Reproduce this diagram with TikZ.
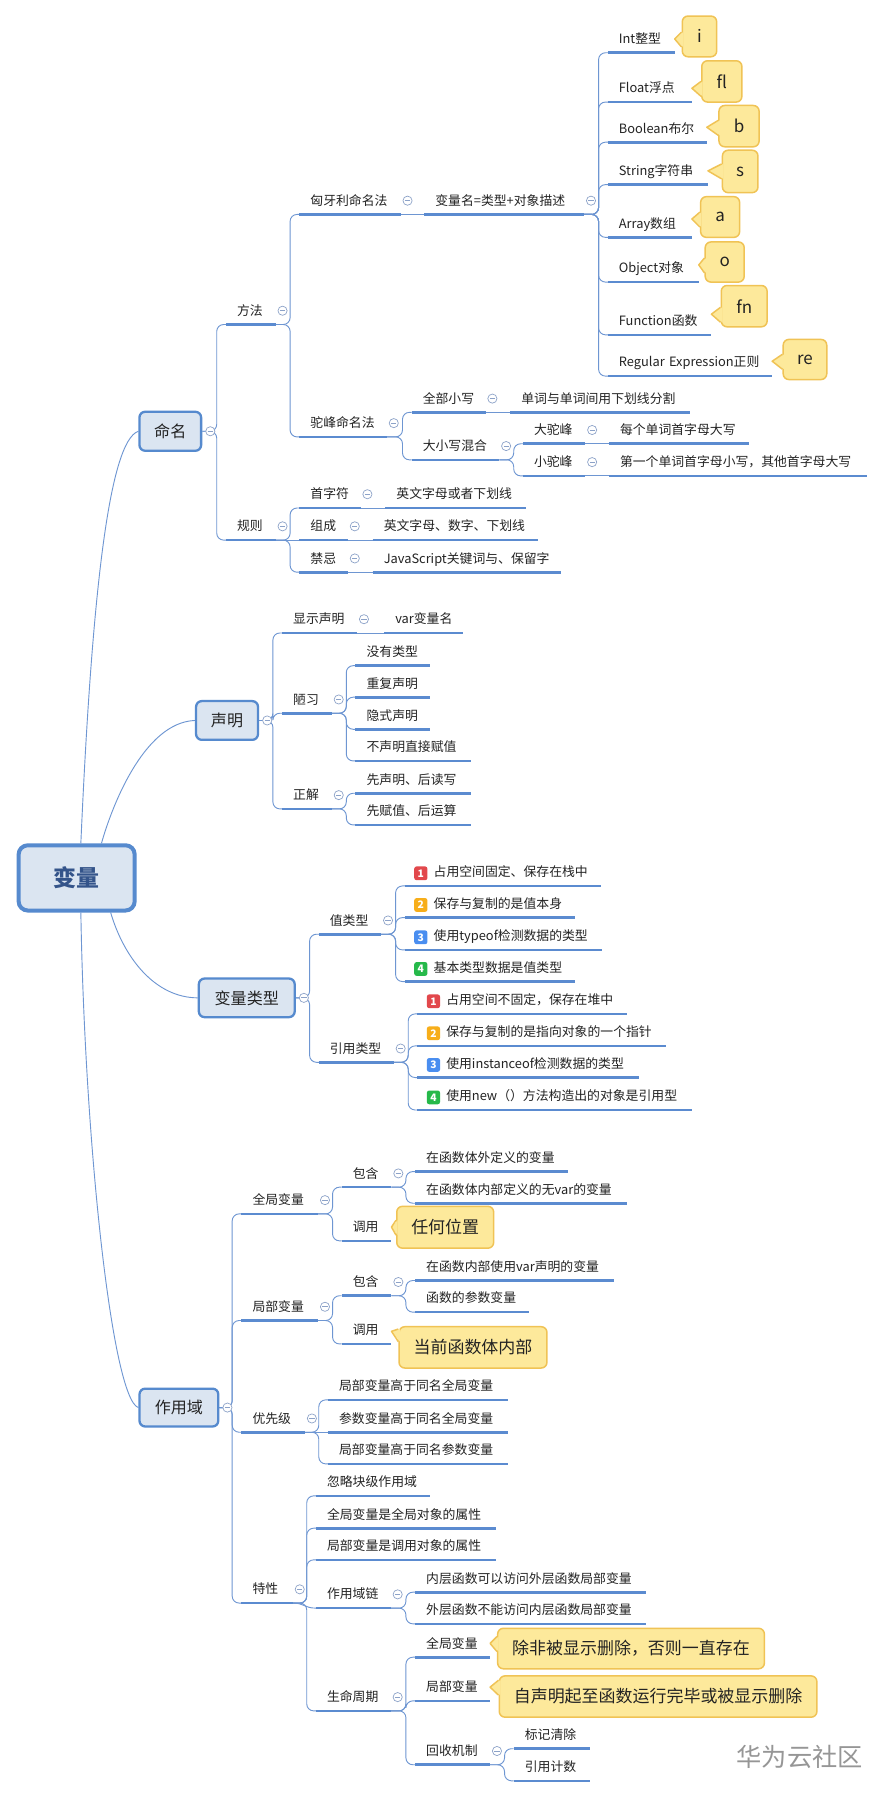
\documentclass[tikz,border=0pt]{standalone}
\usepackage{fontspec}
\newfontfamily\cjk{Noto Sans CJK SC}
\usetikzlibrary{backgrounds,calc}
\definecolor{ul}{RGB}{91,139,208}
\definecolor{cn}{RGB}{110,150,210}
\definecolor{bfill}{RGB}{219,229,241}
\definecolor{bdraw}{RGB}{86,138,206}
\definecolor{rtext}{RGB}{52,84,138}
\definecolor{tx}{RGB}{35,35,35}
\definecolor{colc}{RGB}{140,162,200}
\definecolor{cfill}{RGB}{253,233,155}
\definecolor{cdraw}{RGB}{240,195,85}
\definecolor{bred}{RGB}{226,72,76}
\definecolor{borg}{RGB}{247,174,26}
\definecolor{bblu}{RGB}{74,142,240}
\definecolor{bgrn}{RGB}{38,185,74}
\definecolor{wm}{RGB}{150,150,150}
\tikzset{
  topic/.style={font=\cjk\fontsize{11.2}{13}\selectfont, text=tx, inner xsep=9.5pt, inner ysep=0pt, text height=9pt, text depth=7.8pt, anchor=south west, align=left},
  uline/.style={draw=ul, line width=2.3pt},
  conn/.style={draw=cn, line width=0.8pt, rounded corners=6pt},
  coll/.style={circle, draw=colc, fill=white, line width=0.6pt, minimum size=8pt, inner sep=0pt, path picture={\draw[colc,line width=0.7pt] ([xshift=-2.3pt]path picture bounding box.center) -- ([xshift=2.3pt]path picture bounding box.center);}},
  mainbox/.style={draw=bdraw, fill=bfill, line width=2pt, rounded corners=5pt, font=\cjk\fontsize{14}{16}\selectfont, text=tx, inner sep=0pt},
  rootbox/.style={draw=bdraw, fill=bfill, line width=3.5pt, rounded corners=8pt, font=\cjk\bfseries\fontsize{20}{22}\selectfont, text=rtext, inner sep=0pt},
  callout/.style={draw=cdraw, fill=cfill, line width=1.3pt, rounded corners=5pt, font=\cjk\fontsize{14.8}{17}\selectfont, text=tx, inner sep=0pt},
  badge/.style={rounded corners=2pt, minimum width=11.5pt, minimum height=12pt, inner sep=0pt, text=white, font=\cjk\bfseries\fontsize{9}{9}\selectfont},
  wmark/.style={font=\cjk\fontsize{22}{24}\selectfont, text=wm}
}
\newcommand\tpn[5]{%
  \pgfmathsetlengthmacro\tpw{#3pt-#2pt-19pt}%
  \node[topic, text width=\tpw] (#1) at (#2,#4) {\mbox{#5}};
  \draw[uline] (#1.south west) -- (#1.south east);}
\newcommand\colli[1]{\node[coll] (#1-c) at ([shift={(6pt,12pt)}]#1.south east) {};}
\newcommand\collb[1]{\node[coll] (#1-c) at ([xshift=7pt]#1.east) {};}
\newcommand\lnk[2]{\draw[conn] (#1.south east) -| ([xshift=-8pt]#2.south west) -- (#2.south west);}
\newcommand\lnks[2]{\draw[conn] (#1.south east) -- (#2.south west);}
\newcommand\lnkb[2]{\draw[conn] (#1.east) -| ([xshift=-8pt]#2.south west) -- (#2.south west);}
\newcommand\callo[9]{%
  \pgfmathsetlengthmacro\cw{#4pt-#3pt}%
  \pgfmathsetlengthmacro\ch{#6pt-#5pt}%
  \node[callout, minimum width=\cw, minimum height=\ch] (#1) at ({(#3+#4)/2},{(#5+#6)/2}) {#7};
  \fill[cfill] (#2) -- ($(#1.west |- #2)+(1.4pt,#8pt)$) -- ($(#1.west |- #2)+(1.4pt,-#9pt)$) -- cycle;
  \draw[cdraw, line width=1.3pt, line join=round] ($(#1.west |- #2)+(0pt,#8pt)$) -- (#2) -- ($(#1.west |- #2)+(0pt,-#9pt)$);}
\begin{document}
\begin{tikzpicture}[x=1pt,y=-1pt]
\useasboundingbox (0,0) rectangle (770,1568);
% root and main branches
\node[rootbox, minimum width=101.2pt, minimum height=56.9pt] (root) at (66.85,765.6) {变量};
\node[mainbox, minimum width=53.8pt, minimum height=34pt] (mm) at (148.5,376.1) {命名};
\node[mainbox, minimum width=54pt, minimum height=33.8pt] (sm) at (198,628.3) {声明};
\node[mainbox, minimum width=83.6pt, minimum height=33.7pt] (bllx) at (215.2,870.2) {变量类型};
\node[mainbox, minimum width=68.7pt, minimum height=33pt] (zyy) at (156,1227.5) {作用域};
% 命名
\tpn{fangfa}{197}{240}{283}{方法}
\tpn{xyl}{261}{349}{187}{匈牙利命名法}
\tpn{blm}{370}{509}{187}{变量名=类型+对象描述}
\tpn{tint}{530}{588}{46}{Int整型}
\tpn{tflo}{530}{603}{89}{Float浮点}
\tpn{tboo}{530}{616}{124}{Boolean布尔}
\tpn{tstr}{530}{617}{161}{String字符串}
\tpn{tarr}{530}{603}{207}{Array数组}
\tpn{tobj}{530}{609}{246}{Object对象}
\tpn{tfun}{530}{620}{292}{Function函数}
\tpn{treg}{530}{673}{328}{Regular Expression正则}
\tpn{tf}{261}{337}{381}{驼峰命名法}
\tpn{qbxx}{359}{423}{359.6}{全部小写}
\tpn{dcyd}{445}{601}{359.6}{单词与单词间用下划线分割}
\tpn{dxxhh}{359}{435}{401}{大小写混合}
\tpn{dtf}{456}{510}{387}{大驼峰}
\tpn{mgdc}{531}{653}{387}{每个单词首字母大写}
\tpn{xtf}{456}{510}{415}{小驼峰}
\tpn{dygdc}{531}{756}{415}{第一个单词首字母小写，其他首字母大写}
\tpn{guize}{197}{240}{471}{规则}
\tpn{szf}{261}{314}{443}{首字符}
\tpn{ywzm}{336}{458}{443}{英文字母或者下划线}
\tpn{zc}{261}{303}{471}{组成}
\tpn{ywsz}{325}{469}{471}{英文字母、数字、下划线}
\tpn{jj}{261}{303}{499}{禁忌}
\tpn{jsgj}{325}{489}{499}{JavaScript关键词与、保留字}
% 声明
\tpn{xssm}{246}{311}{552}{显示声明}
\tpn{varn}{335}{403}{552}{var变量名}
\tpn{lx}{246}{289}{622}{陋习}
\tpn{m1}{310}{375}{580.5}{没有类型}
\tpn{m2}{310}{375}{608}{重复声明}
\tpn{m3}{310}{375}{636}{隐式声明}
\tpn{m4}{310}{410}{663.6}{不声明直接赋值}
\tpn{zj}{246}{289}{705.4}{正解}
\tpn{z1}{310}{410}{691.8}{先声明、后读写}
\tpn{z2}{310}{410}{719.4}{先赋值、后运算}
% 变量类型
\tpn{zlx}{278}{332}{814.7}{值类型}
\tpn{v1}{353}{524}{772.6}{\hspace*{15.5pt}占用空间固定、保存在栈中}
\tpn{v2}{353}{501}{800.2}{\hspace*{15.5pt}保存与复制的是值本身}
\tpn{v3}{353}{525}{828.4}{\hspace*{15.5pt}使用typeof检测数据的类型}
\tpn{v4}{353}{501}{856}{\hspace*{15.5pt}基本类型数据是值类型}
\tpn{yylx}{278}{343}{926.4}{引用类型}
\tpn{r1}{364}{546}{884.2}{\hspace*{15.5pt}占用空间不固定，保存在堆中}
\tpn{r2}{364}{580.5}{912.1}{\hspace*{15.5pt}保存与复制的是指向对象的一个指针}
\tpn{r3}{364}{557}{939.7}{\hspace*{15.5pt}使用instanceof检测数据的类型}
\tpn{r4}{364}{603}{968}{\hspace*{15.5pt}使用new（）方法构造出的对象是引用型}
\node[badge, fill=bred] (v1b) at ([shift={(14pt,11pt)}]v1.south west) {1};
\node[badge, fill=borg] (v2b) at ([shift={(14pt,11pt)}]v2.south west) {2};
\node[badge, fill=bblu] (v3b) at ([shift={(14pt,11pt)}]v3.south west) {3};
\node[badge, fill=bgrn] (v4b) at ([shift={(14pt,11pt)}]v4.south west) {4};
\node[badge, fill=bred] (r1b) at ([shift={(14pt,11pt)}]r1.south west) {1};
\node[badge, fill=borg] (r2b) at ([shift={(14pt,11pt)}]r2.south west) {2};
\node[badge, fill=bblu] (r3b) at ([shift={(14pt,11pt)}]r3.south west) {3};
\node[badge, fill=bgrn] (r4b) at ([shift={(14pt,11pt)}]r4.south west) {4};
% 作用域
\tpn{qjbl}{210.5}{277}{1058.6}{全局变量}
\tpn{bh1}{298}{341}{1035.3}{包含}
\tpn{a1}{362}{495}{1021.7}{在函数体外定义的变量}
\tpn{a2}{362}{546}{1049.3}{在函数体内部定义的无var的变量}
\tpn{dy1}{298}{341}{1082.1}{调用}
\tpn{jbbl}{210.5}{277}{1151.6}{局部变量}
\tpn{bh2}{298}{341}{1130}{包含}
\tpn{b1}{362}{535}{1116.7}{在函数内部使用var声明的变量}
\tpn{b2}{362}{461}{1144.3}{函数的参数变量}
\tpn{dy2}{298}{341}{1172}{调用}
\tpn{yxj}{210.5}{265.6}{1249}{优先级}
\tpn{p1}{286}{443}{1220.8}{局部变量高于同名全局变量}
\tpn{p2}{286}{443}{1249}{参数变量高于同名全局变量}
\tpn{p3}{286}{443}{1276.6}{局部变量高于同名参数变量}
\tpn{tx}{210.5}{255}{1398}{特性}
\tpn{t1}{275.5}{375}{1304.5}{忽略块级作用域}
\tpn{t2}{275.5}{432}{1332.7}{全局变量是全局对象的属性}
\tpn{t3}{275.5}{432}{1360.3}{局部变量是调用对象的属性}
\tpn{zyyl}{275.5}{340.4}{1402.4}{作用域链}
\tpn{c1}{362}{563}{1388.5}{内层函数可以访问外层函数局部变量}
\tpn{c2}{362}{563}{1416.1}{外层函数不能访问内层函数局部变量}
\tpn{smzq}{275.5}{340.4}{1492}{生命周期}
\tpn{lq}{362}{427}{1445.2}{全局变量}
\tpn{lj}{362}{427}{1483.3}{局部变量}
\tpn{hsjz}{362}{427}{1539}{回收机制}
\tpn{h1}{448}{514}{1525}{标记清除}
\tpn{h2}{448}{514}{1553}{引用计数}
% collapse markers
\collb{mm}\collb{sm}\collb{bllx}\collb{zyy}
\colli{fangfa}\colli{xyl}\colli{blm}\colli{tf}\colli{qbxx}\colli{dxxhh}\colli{dtf}\colli{xtf}
\colli{guize}\colli{szf}\colli{zc}\colli{jj}\colli{xssm}\colli{lx}\colli{zj}\colli{zlx}\colli{yylx}
\colli{qjbl}\colli{bh1}\colli{jbbl}\colli{bh2}\colli{yxj}\colli{tx}\colli{zyyl}\colli{smzq}\colli{hsjz}
% callouts
\coordinate (ti) at ([yshift=12pt]tint.south east);
\coordinate (tfl) at ([yshift=12pt]tflo.south east);
\coordinate (tb) at ([yshift=13pt]tboo.south east);
\coordinate (ts) at ([yshift=12pt]tstr.south east);
\coordinate (ta) at ([yshift=16pt]tarr.south east);
\coordinate (to) at ([yshift=15pt]tobj.south east);
\coordinate (tfn) at ([yshift=18pt]tfun.south east);
\coordinate (tre) at ([yshift=13pt]treg.south east);
\callo{ci}{ti}{595}{625}{14}{49.5}{i}{6}{7}
\callo{cfl}{tfl}{612}{647}{53}{89}{fl}{6}{7}
\callo{cb}{tb}{627}{662}{92}{128}{b}{6}{7}
\callo{cs}{ts}{630}{661}{131}{168}{s}{6}{7}
\callo{ca}{ta}{611}{645}{171.5}{207}{a}{6}{7}
\callo{co}{to}{615}{649}{211}{246}{o}{6}{7}
\callo{cfn}{tfn}{629}{669}{249}{285}{fn}{6}{7}
\callo{cre}{tre}{683}{721}{296}{331}{re}{6}{7}
\coordinate (tdy1) at ([yshift=12pt]dy1.south east);
\coordinate (tdy2) at ([yshift=11pt]dy2.south east);
\coordinate (tlq) at ([yshift=12pt]lq.south east);
\coordinate (tlj) at ([yshift=12pt]lj.south east);
\callo{crh}{tdy1}{346}{430.5}{1052}{1088.5}{任何位置}{6}{7}
\callo{cdq}{tdy2}{348}{477}{1157}{1193}{当前函数体内部}{2}{9}
\callo{ccf}{tlq}{434}{666.6}{1420}{1455.3}{除非被显示删除，否则一直存在}{6}{7}
\callo{czs}{tlj}{435.4}{712.4}{1461.5}{1497.5}{自声明起至函数运行完毕或被显示删除}{6}{7}
% watermark
\node[wmark, anchor=east] (wmk) at (756,1532) {华为云社区};
% connectors
\begin{pgfonlayer}{background}
\fill[white] (0,0) rectangle (770,1568);
\draw[conn] ([xshift=56pt]root.north west) .. controls (80,520) and (95,385) .. (mm.west);
\draw[conn] ([xshift=74pt]root.north west) .. controls (97,705) and (125,630) .. (sm.west);
\draw[conn] ([xshift=82pt]root.south west) .. controls (108,835) and (135,870) .. (bllx.west);
\draw[conn] ([xshift=56pt]root.south west) .. controls (74,1000) and (98,1220) .. (zyy.west);
\lnkb{mm}{fangfa}\lnkb{mm}{guize}
\lnkb{sm}{xssm}\lnkb{sm}{lx}\lnkb{sm}{zj}
\lnkb{bllx}{zlx}\lnkb{bllx}{yylx}
\lnkb{zyy}{qjbl}\lnkb{zyy}{jbbl}\lnkb{zyy}{yxj}\lnkb{zyy}{tx}
\lnk{fangfa}{xyl}\lnk{fangfa}{tf}
\lnks{xyl}{blm}
\lnk{blm}{tint}\lnk{blm}{tflo}\lnk{blm}{tboo}\lnk{blm}{tstr}\lnk{blm}{tarr}\lnk{blm}{tobj}\lnk{blm}{tfun}\lnk{blm}{treg}
\lnk{tf}{qbxx}\lnk{tf}{dxxhh}
\lnks{qbxx}{dcyd}
\lnk{dxxhh}{dtf}\lnk{dxxhh}{xtf}
\lnks{dtf}{mgdc}\lnks{xtf}{dygdc}
\lnk{guize}{szf}\lnks{guize}{zc}\lnk{guize}{jj}
\lnks{szf}{ywzm}\lnks{zc}{ywsz}\lnks{jj}{jsgj}
\lnks{xssm}{varn}
\lnk{lx}{m1}\lnk{lx}{m2}\lnk{lx}{m3}\lnk{lx}{m4}
\lnk{zj}{z1}\lnk{zj}{z2}
\lnk{zlx}{v1}\lnk{zlx}{v2}\lnk{zlx}{v3}\lnk{zlx}{v4}
\lnk{yylx}{r1}\lnk{yylx}{r2}\lnk{yylx}{r3}\lnk{yylx}{r4}
\lnk{qjbl}{bh1}\lnk{qjbl}{dy1}
\lnk{bh1}{a1}\lnk{bh1}{a2}
\lnk{jbbl}{bh2}\lnk{jbbl}{dy2}
\lnk{bh2}{b1}\lnk{bh2}{b2}
\lnk{yxj}{p1}\lnks{yxj}{p2}\lnk{yxj}{p3}
\lnk{tx}{t1}\lnk{tx}{t2}\lnk{tx}{t3}\lnk{tx}{smzq}
\draw[conn] (tx.south east) .. controls +(10,0) and +(-10,0) .. (zyyl.south west);
\lnk{zyyl}{c1}\lnk{zyyl}{c2}
\lnk{smzq}{lq}\lnk{smzq}{lj}\lnk{smzq}{hsjz}
\lnk{hsjz}{h1}\lnk{hsjz}{h2}
\end{pgfonlayer}
\end{tikzpicture}
\end{document}
